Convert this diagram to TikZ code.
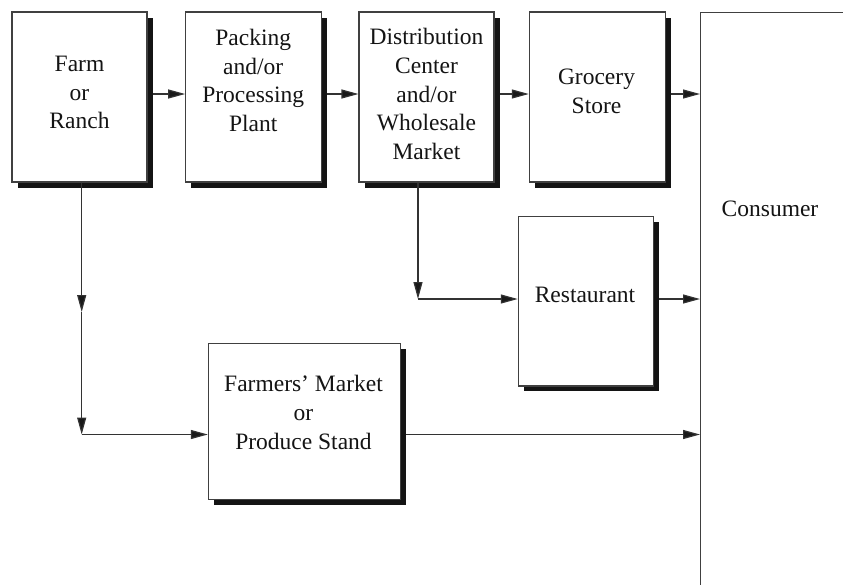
\documentclass[tikz,border=0pt]{standalone}
\usepackage{fontspec}
\setmainfont{Liberation Serif}
\usetikzlibrary{arrows.meta,shadows,calc}
\begin{document}
\begin{tikzpicture}[x=1pt,y=1pt,
  box/.style={draw=black!75, line width=1.1pt, fill=white, inner sep=0pt, rectangle,
    drop shadow={shadow xshift=5.5pt, shadow yshift=-5.5pt, fill=black!92, opacity=1}},
  lbl/.style={align=center, font=\fontsize{23.5}{28.7}\selectfont, text=black!92, inner sep=0pt},
  arr/.style={draw=black!80, line width=1.2pt, -{Triangle[length=17pt,width=9pt,fill=black!90]}}]
\useasboundingbox (0,0) rectangle (843,-584);
\clip (0,0) rectangle (843,-584);
% boxes
\node[box, minimum width=135, minimum height=170] (farm) at (79.5,-97) {};
\node[box, minimum width=136, minimum height=170] (packing) at (253.7,-97) {};
\node[box, minimum width=135, minimum height=170] (dist) at (426.5,-97) {};
\node[box, minimum width=135.7, minimum height=170] (grocery) at (597.2,-97) {};
\node[box, minimum width=135, minimum height=169.3] (restaurant) at (585.8,-301.3) {};
\node[box, minimum width=191.7, minimum height=156] (farmers) at (304.2,-421.3) {};
\node[draw=black!75, line width=1.1pt, fill=white, inner sep=0pt, minimum width=300, minimum height=700, anchor=north west] (consumer) at (700,-12) {};
% labels
\node[lbl] (farmt) at (79.5,-92.5) {Farm\\or\\Ranch};
\node[lbl] (packingt) at (253.2,-80.5) {Packing\\and/or\\Processing\\Plant};
\node[lbl] (distt) at (426.5,-94) {Distribution\\Center\\and/or\\Wholesale\\Market};
\node[lbl] (groceryt) at (596.5,-91.5) {Grocery\\Store};
\node[lbl] (restaurantt) at (585,-294.5) {Restaurant};
\node[lbl] (farmerst) at (303.5,-412.5) {Farmers' Market\\or\\Produce Stand};
\node[lbl] (consumert) at (770,-208.5) {Consumer};
% connectors along the top row
\draw[arr] ([shift={(5,3)}]farm.east) -- ([yshift=3]packing.west);
\draw[arr] ([shift={(5,3)}]packing.east) -- ([yshift=3]dist.west);
\draw[arr] ([shift={(5,3)}]dist.east) -- ([yshift=3]grocery.west);
\coordinate (g1) at ($(grocery.east)+(5,3)$);
\draw[arr] (g1) -- (g1 -| consumer.west);
% distribution to restaurant
\coordinate (dc) at (418,-299);
\draw[arr] (dist.south -| dc) -- (dc);
\draw[arr] (dc) -- (dc -| restaurant.west);
\coordinate (r2) at ($(restaurant.east)+(5,2.3)$);
\draw[arr] (r2) -- (r2 -| consumer.west);
% farm to farmers' market
\coordinate (fm) at (81.7,-312);
\coordinate (fc) at (81.7,-434.5);
\draw[arr] (farm.south -| fm) -- (fm);
\draw[arr] (fm) -- (fc);
\draw[arr] (fc) -- (fc -| farmers.west);
\coordinate (f2) at ($(farmers.east)+(5,0)$);
\coordinate (f3) at (f2 |- fc);
\draw[arr] (f3) -- (f3 -| consumer.west);
\end{tikzpicture}
\end{document}
